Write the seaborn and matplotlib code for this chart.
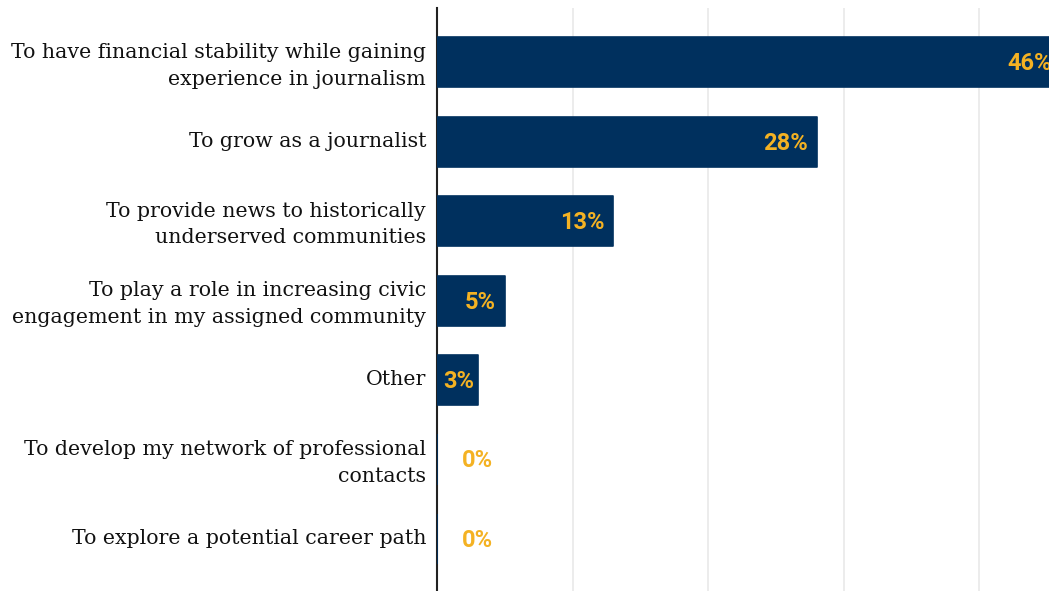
import matplotlib
matplotlib.use("Agg")
import matplotlib.pyplot as plt
import seaborn as sns
import pandas as pd
import numpy as np

categories = [
    "To have financial stability while gaining\nexperience in journalism",
    "To grow as a journalist",
    "To provide news to historically\nunderserved communities",
    "To play a role in increasing civic\nengagement in my assigned community",
    "Other",
    "To develop my network of professional\ncontacts",
    "To explore a potential career path",
]
values = [46, 28, 13, 5, 3, 0, 0]
value_labels = ["46%", "28%", "13%", "5%", "3%", "0%", "0%"]

NAVY = "#00305e"
GOLD = "#f4b223"

sns.set_theme(style="white")
plt.rcParams["font.family"] = ["DejaVu Serif"]

df = pd.DataFrame({"reason": categories, "share": values})

W, H = 1049, 591
fig = plt.figure(figsize=(W / 100, H / 100), dpi=100)
x0_px = 437.2
px_per_unit = 13.55
xmax = 50
ax = fig.add_axes([x0_px / W, 0, xmax * px_per_unit / W, (H - 8) / H])

sns.barplot(data=df, x="share", y="reason", orient="h", color=NAVY,
            width=0.63, saturation=1, ax=ax, zorder=3)
for bar in ax.patches:
    bar.set_edgecolor(NAVY)
    bar.set_linewidth(1.2)
    bar.set_joinstyle("round")

ax.set_xlim(0, xmax)
ax.set_ylim(6.656, -0.686)
ax.set_xticks([10, 20, 30, 40, 50])
ax.xaxis.grid(True, color="#ebebeb", linewidth=1.3)
ax.set_axisbelow(True)
ax.tick_params(axis="x", bottom=False, labelbottom=False)
# category labels sit a touch above the bar centre
ax.set_yticks(np.arange(len(categories)) - 0.03, labels=categories)
ax.tick_params(axis="y", left=False, length=0, pad=8, labelsize=14.8,
               labelcolor="#111111")
for tl in ax.get_yticklabels():
    tl.set_linespacing(1.5)
ax.set_xlabel("")
ax.set_ylabel("")
for side in ["top", "right", "bottom"]:
    ax.spines[side].set_visible(False)
ax.spines["left"].set_color("#222222")
ax.spines["left"].set_linewidth(1.5)

# value labels: inside the bar end when it fits, otherwise just right of the axis
fig.canvas.draw()
renderer = fig.canvas.get_renderer()
lab_font = dict(family=["Roboto", "DejaVu Sans"], fontweight="bold",
                fontsize=17, color=GOLD)
for i, (v, lab) in enumerate(zip(values, value_labels)):
    t = ax.annotate(lab, (v, i), xytext=(-9 * 0.72, -1),
                    textcoords="offset points", va="center", ha="right",
                    annotation_clip=False, zorder=5, **lab_font)
    w_px = t.get_window_extent(renderer).width
    bar_px = v * px_per_unit
    if v == 0:
        t.remove()
        ax.annotate(lab, (0, i), xytext=(25 * 0.72, -1),
                    textcoords="offset points", va="center", ha="left",
                    zorder=5, **lab_font)
    elif bar_px - 9 < w_px + 6:
        t.remove()
        ax.annotate(lab, (0, i), xytext=(6 * 0.72, -1),
                    textcoords="offset points", va="center", ha="left",
                    zorder=5, **lab_font)

fig.savefig("out.png", dpi=100)
